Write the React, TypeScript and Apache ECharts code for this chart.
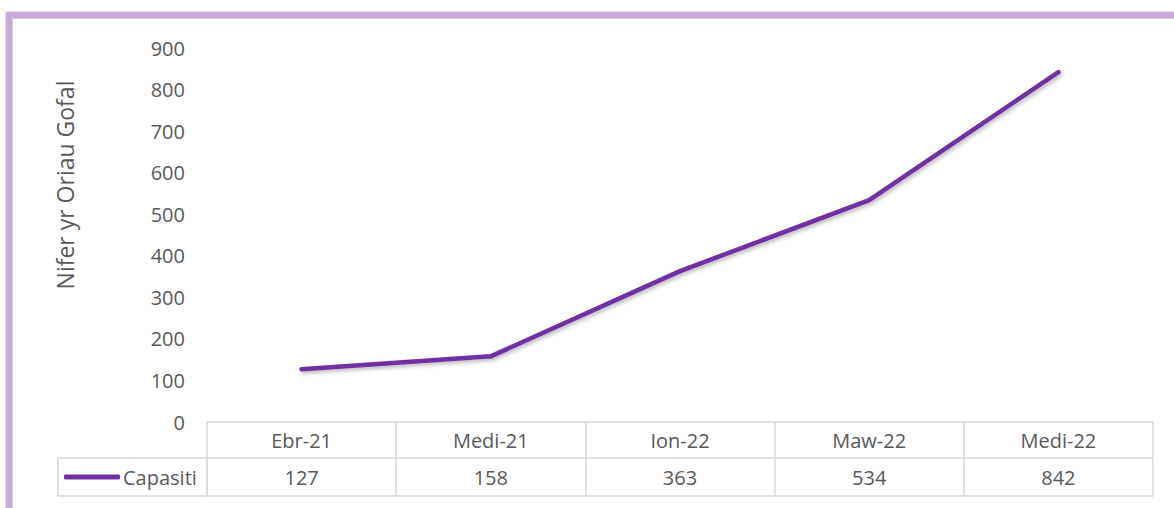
import React, { useEffect, useRef } from "react";
import * as echarts from "echarts";

const categories = ["Ebr-21", "Medi-21", "Ion-22", "Maw-22", "Medi-22"];
const capasiti = [127, 158, 363, 534, 842];
const seriesName = "Capasiti";
const yTitle = "Nifer yr Oriau Gofal";

const FONT = "'Open Sans', sans-serif";
const GRAY = "#595959";
const BORDER = "#d9d9d9";

export default function App() {
  const ref = useRef<HTMLDivElement>(null);
  useEffect(() => {
    document.body.style.margin = "0";
    const chart = echarts.init(ref.current!, null, { renderer: "svg" });
    chart.setOption({
      animation: false,
      backgroundColor: "#ffffff",
      textStyle: { fontFamily: FONT },
      grid: { left: 207, right: 21, top: 48, bottom: 86 },
      legend: {
        left: 64,
        top: 467,
        padding: 0,
        icon: "roundRect",
        itemWidth: 56,
        itemHeight: 5,
        itemGap: 0,
        textStyle: { fontFamily: FONT, fontSize: 20, color: GRAY, padding: [0, 0, 0, -2] },
        data: [seriesName],
      },
      xAxis: [
        {
          type: "category",
          data: categories,
          boundaryGap: true,
          position: "bottom",
          axisLine: { show: true, lineStyle: { color: BORDER, width: 1.5 } },
          axisTick: { show: true, length: 74, lineStyle: { color: BORDER, width: 1.5 } },
          axisLabel: { fontFamily: FONT, fontSize: 20, color: GRAY, margin: 18, verticalAlign: "middle" },
          splitLine: { show: false },
        },
        {
          type: "category",
          data: capasiti.map((v) => String(v)),
          boundaryGap: true,
          position: "bottom",
          offset: 36,
          axisLine: { show: true, lineStyle: { color: BORDER, width: 1.5 } },
          axisTick: { show: false },
          axisLabel: { fontFamily: FONT, fontSize: 20, color: GRAY, margin: 19, verticalAlign: "middle" },
        },
        {
          type: "category",
          data: categories,
          boundaryGap: true,
          position: "bottom",
          offset: 74,
          axisLine: { show: true, lineStyle: { color: BORDER, width: 1.5 } },
          axisTick: { show: false },
          axisLabel: { show: false },
        },
      ],
      yAxis: {
        type: "value",
        min: 0,
        max: 900,
        interval: 100,
        axisLine: { show: false },
        axisTick: { show: false },
        splitLine: { show: false },
        axisLabel: { fontFamily: FONT, fontSize: 20, color: GRAY, margin: 22 },
      },
      series: [
        {
          name: seriesName,
          type: "line",
          data: capasiti,
          xAxisIndex: 0,
          symbol: "none",
          color: "#7030A0",
          lineStyle: {
            color: "#7030A0",
            width: 4.5,
            cap: "round",
            join: "round",
            shadowColor: "rgba(0,0,0,0.3)",
            shadowBlur: 4,
            shadowOffsetX: 1.5,
            shadowOffsetY: 2,
          },
        },
      ],
      graphic: [
        {
          type: "rect",
          z: -10,
          silent: true,
          shape: { x: 9, y: 15, width: 1220, height: 560 },
          style: {
            fill: "none",
            stroke: "#c9aad9",
            lineWidth: 6,
            shadowColor: "rgba(185,150,210,0.8)",
            shadowBlur: 3,
          },
        },
        {
          type: "rect",
          z: -9,
          silent: true,
          shape: { x: 12.5, y: 18.5, width: 1220, height: 560 },
          style: { fill: "#ffffff", stroke: "#d2d2d2", lineWidth: 1 },
        },
        {
          type: "rect",
          silent: true,
          shape: { x: 58, y: 458, width: 149, height: 38 },
          style: { fill: "none", stroke: BORDER, lineWidth: 1.5 },
        },
        {
          type: "text",
          x: 65,
          y: 185,
          rotation: Math.PI / 2,
          style: {
            text: yTitle,
            fontFamily: FONT,
            fontSize: 23,
            fill: GRAY,
            align: "center",
            verticalAlign: "middle",
          },
        },
      ],
    });
    return () => chart.dispose();
  }, []);
  return <div ref={ref} style={{ position: "absolute", left: 0, top: 0, width: 1174, height: 508 }} />;
}
